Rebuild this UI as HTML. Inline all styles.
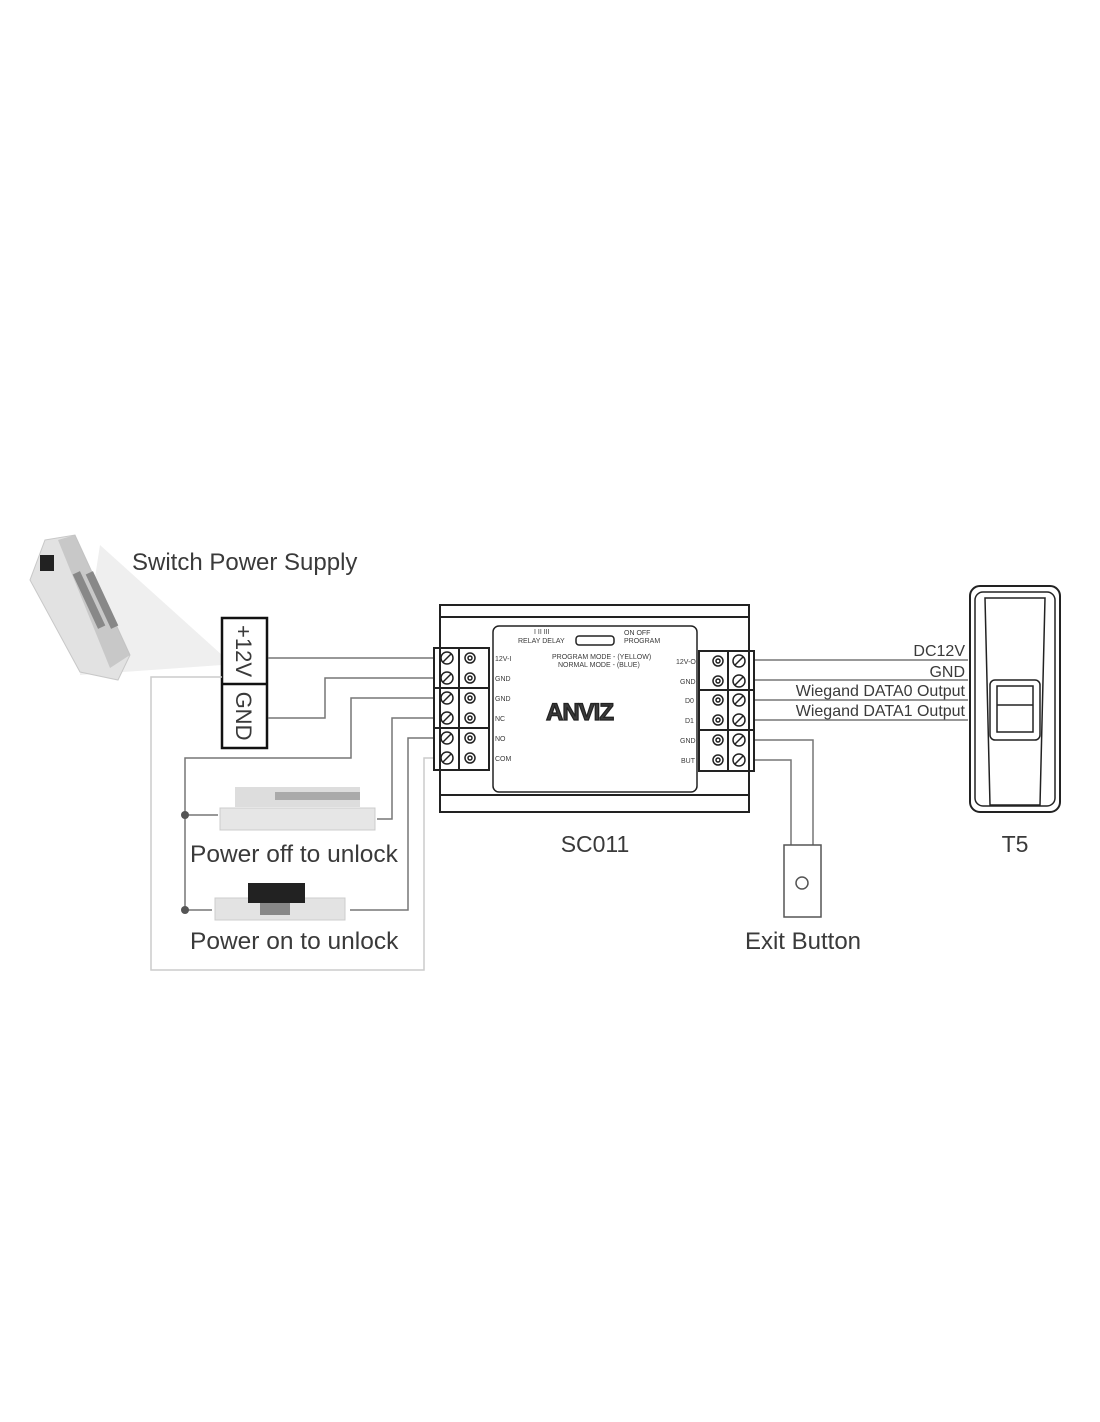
<!DOCTYPE html>
<html><head><style>body{margin:0;background:#fff}svg{display:block}text{font-family:"Liberation Sans",sans-serif;fill:#3a3a3a}</style></head><body>
<svg width="1100" height="1422" viewBox="0 0 1100 1422" xmlns="http://www.w3.org/2000/svg">
<!-- power supply -->
<polygon points="100,545 222,655 222,665 80,675" fill="#efefef"/>
<polygon points="45,540 75,535 130,655 118,680 80,672 30,580" fill="#e2e2e2" stroke="#c8c8c8"/>
<polygon points="58,540 75,535 130,655 110,668" fill="#bdbdbd" opacity="0.7"/>
<g fill="#888"><rect x="85" y="570" width="8" height="60" transform="rotate(-25 89 600)"/><rect x="98" y="570" width="8" height="60" transform="rotate(-25 102 600)"/></g>
<rect x="40" y="555" width="14" height="16" fill="#222"/>
<text x="132" y="570" font-size="24">Switch Power Supply</text>
<rect x="222" y="618" width="45" height="130" fill="#fff" stroke="#111" stroke-width="2.5"/>
<line x1="222" y1="684" x2="267" y2="684" stroke="#111" stroke-width="2.5"/>
<text transform="translate(236,651) rotate(90)" font-size="22" text-anchor="middle" fill="#111">+12V</text>
<text transform="translate(236,716) rotate(90)" font-size="22" text-anchor="middle" fill="#111">GND</text>
<g fill="none" stroke="#777" stroke-width="1.5">
<path d="M268,658H434"/>
<path d="M268,718H325V678H434"/>
<path d="M434,698H351V758H185V910"/>
<path d="M185,815H218M185,910H212"/>
<path d="M377,819H392V718H434"/>
<path d="M350,910H408V738H434"/>
<path d="M754,660H968M754,680H968M754,700H968M754,720H968"/>
<path d="M754,740H813V845M754,760H791V845"/>
</g>
<path d="M222,677H151V970H424V758H434" fill="none" stroke="#ccc" stroke-width="1.5"/>
<circle cx="185" cy="815" r="4" fill="#555"/><circle cx="185" cy="910" r="4" fill="#555"/>
<!-- locks -->
<rect x="235" y="787" width="125" height="20" fill="#ddd"/>
<rect x="275" y="792" width="85" height="8" fill="#aaa"/>
<rect x="220" y="808" width="155" height="22" fill="#e6e6e6" stroke="#ccc"/>
<text x="190" y="862" font-size="24.5">Power off to unlock</text>
<rect x="215" y="898" width="130" height="22" fill="#e3e3e3" stroke="#ccc"/>
<rect x="248" y="883" width="57" height="20" fill="#222"/>
<rect x="260" y="903" width="30" height="12" fill="#888"/>
<text x="190" y="949" font-size="24.5">Power on to unlock</text>
<!-- SC011 -->
<g fill="none" stroke="#222" stroke-width="2">
<rect x="440" y="605" width="309" height="207"/>
<line x1="440" y1="617" x2="749" y2="617"/><line x1="440" y1="795" x2="749" y2="795"/>
<rect x="493" y="626" width="204" height="166" rx="6" stroke-width="1.5"/>
<rect x="576" y="636" width="38" height="9" rx="3" stroke-width="1.5"/>
<rect x="434" y="648" width="55" height="122" stroke-width="2"/>
<line x1="434" y1="688" x2="489" y2="688"/><line x1="434" y1="728" x2="489" y2="728"/><line x1="459" y1="648" x2="459" y2="770"/>
<rect x="699" y="651" width="55" height="120"/>
<line x1="699" y1="690" x2="754" y2="690"/><line x1="699" y1="730" x2="754" y2="730"/><line x1="728" y1="651" x2="728" y2="771"/>
</g>
<g stroke="#222" stroke-width="1.5" fill="none">
<g id="ls"><circle cx="447" cy="658" r="6"/><line x1="443" y1="662" x2="451" y2="654"/><circle cx="470" cy="658" r="5"/><circle cx="470" cy="658" r="2"/></g>
<use href="#ls" y="20"/><use href="#ls" y="40"/><use href="#ls" y="60"/><use href="#ls" y="80"/><use href="#ls" y="100"/>
<g id="rs"><circle cx="739" cy="661" r="6"/><line x1="735" y1="665" x2="743" y2="657"/><circle cx="718" cy="661" r="5"/><circle cx="718" cy="661" r="2"/></g>
<use href="#rs" y="20"/><use href="#rs" y="39"/><use href="#rs" y="59"/><use href="#rs" y="79"/><use href="#rs" y="99"/>
</g>
<g font-size="7" fill="#333">
<text x="518" y="643">RELAY DELAY</text><text x="534" y="634">I  II  III</text>
<text x="624" y="635">ON   OFF</text><text x="624" y="643">PROGRAM</text>
<text x="552" y="659">PROGRAM MODE - (YELLOW)</text><text x="558" y="667">NORMAL MODE - (BLUE)</text>
<text x="495" y="661">12V-I</text><text x="495" y="681">GND</text><text x="495" y="701">GND</text><text x="495" y="721">NC</text><text x="495" y="741">NO</text><text x="495" y="761">COM</text>
<text x="676" y="664">12V-O</text><text x="680" y="684">GND</text><text x="685" y="703">D0</text><text x="685" y="723">D1</text><text x="680" y="743">GND</text><text x="681" y="763">BUT</text>
</g>
<text x="546" y="720" font-size="24" font-weight="bold" fill="#fff" stroke="#222" stroke-width="1.2" letter-spacing="-1">ANVIZ</text>
<text x="595" y="852" font-size="23" text-anchor="middle">SC011</text>
<!-- right labels -->
<g font-size="16" text-anchor="end"><text x="965" y="656">DC12V</text><text x="965" y="677">GND</text><text x="965" y="696">Wiegand DATA0 Output</text><text x="965" y="716">Wiegand DATA1 Output</text></g>
<!-- T5 -->
<g fill="none" stroke="#222" stroke-width="1.5">
<rect x="970" y="586" width="90" height="226" rx="10" stroke-width="2"/>
<rect x="975" y="592" width="80" height="214" rx="8"/>
<path d="M985,598H1045L1040,805H990Z"/>
<rect x="990" y="680" width="50" height="60" rx="5"/>
<rect x="997" y="686" width="36" height="46"/>
<line x1="997" y1="705" x2="1033" y2="705"/>
</g>
<text x="1015" y="852" font-size="23" text-anchor="middle">T5</text>
<rect x="784" y="845" width="37" height="72" fill="#fff" stroke="#555" stroke-width="1.5"/>
<circle cx="802" cy="883" r="6" fill="none" stroke="#555" stroke-width="1.5"/>
<text x="803" y="949" font-size="24" text-anchor="middle">Exit Button</text>
</svg>
</body></html>
